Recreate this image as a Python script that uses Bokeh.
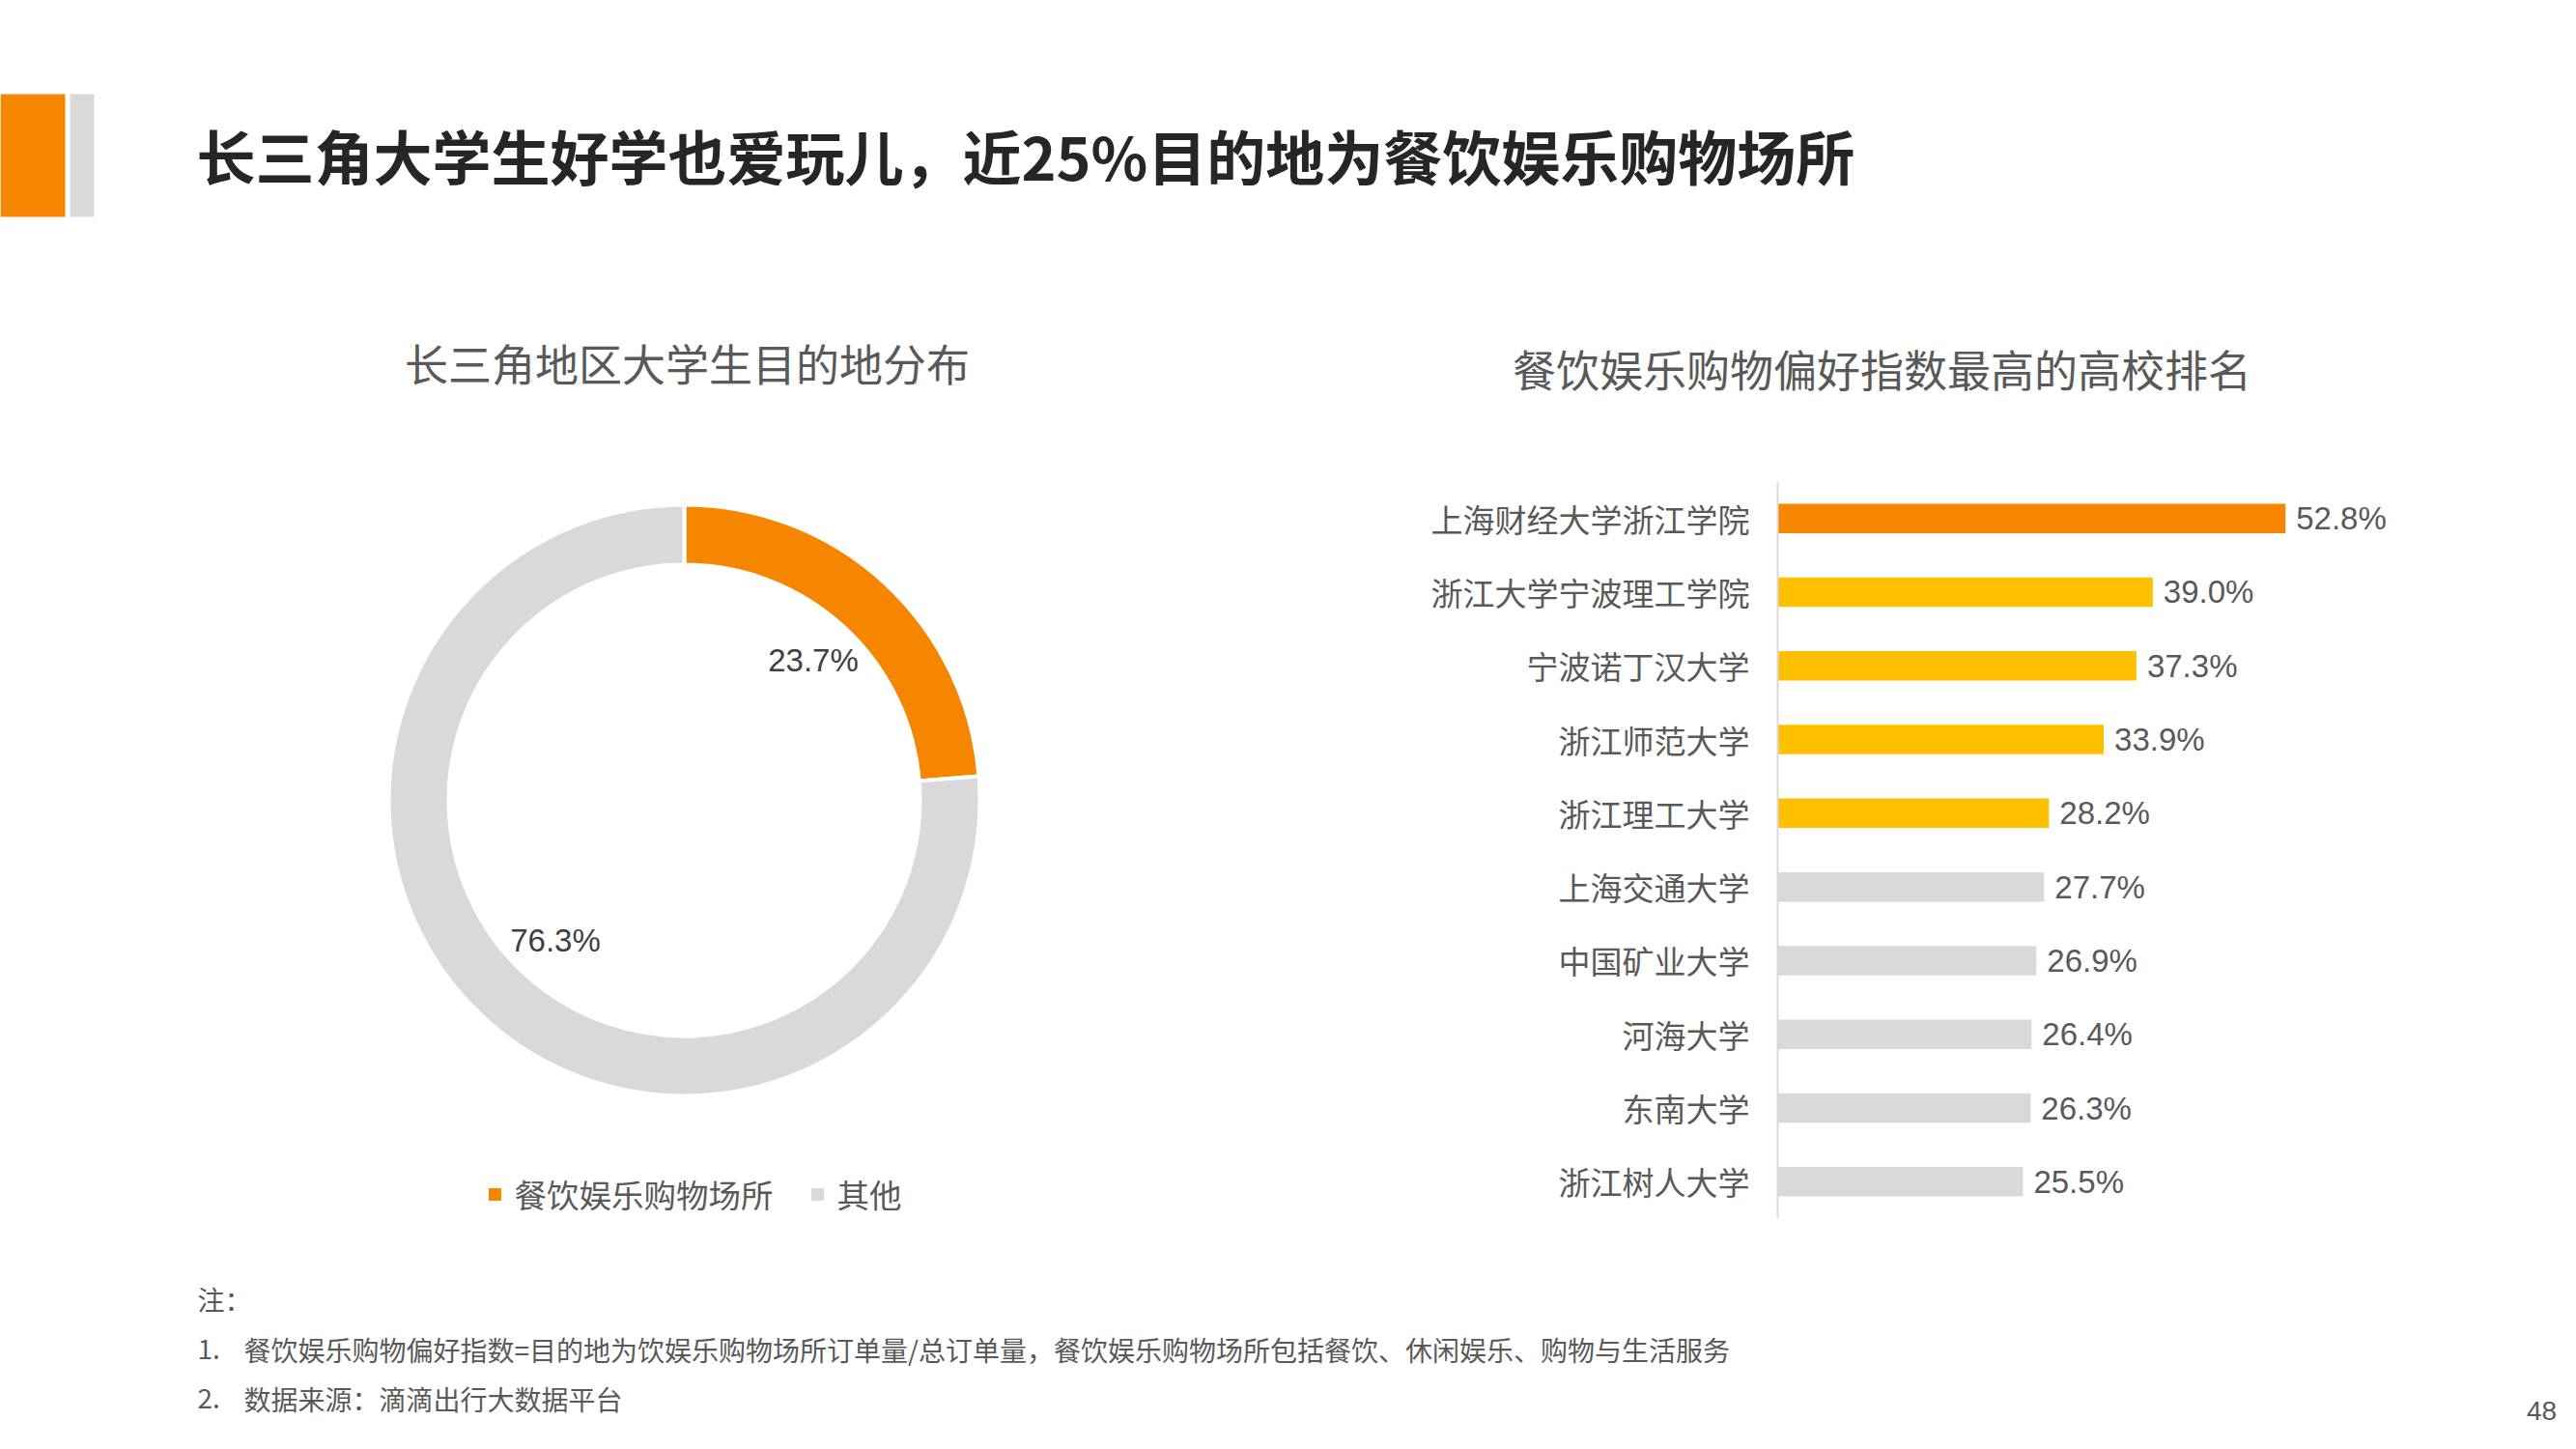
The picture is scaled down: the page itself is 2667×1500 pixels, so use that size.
import numpy as np
from bokeh.plotting import figure
from bokeh.models import Range1d, FactorRange
from bokeh.layouts import column, row
from bokeh.embed import file_html
from bokeh.resources import INLINE
from bokeh.core.properties import value

# ---------------- data ----------------
pie_categories = ["餐饮娱乐购物场所", "其他"]
pie_values = [23.7, 76.3]
pie_colors = ["#F68600", "#D9D9D9"]

schools = ["上海财经大学浙江学院", "浙江大学宁波理工学院", "宁波诺丁汉大学", "浙江师范大学",
           "浙江理工大学", "上海交通大学", "中国矿业大学", "河海大学", "东南大学", "浙江树人大学"]
scores = [52.8, 39.0, 37.3, 33.9, 28.2, 27.7, 26.9, 26.4, 26.3, 25.5]
bar_colors = ["#F68600"] + ["#FFC000"] * 4 + ["#D9D9D9"] * 5

title_text = "长三角大学生好学也爱玩儿，近25%目的地为餐饮娱乐购物场所"
pie_title = "长三角地区大学生目的地分布"
bar_title = "餐饮娱乐购物偏好指数最高的高校排名"
note_head = "注："
note_nums = ["1.", "2."]
note_lines = ["餐饮娱乐购物偏好指数=目的地为饮娱乐购物场所订单量/总订单量，餐饮娱乐购物场所包括餐饮、休闲娱乐、购物与生活服务",
              "数据来源：滴滴出行大数据平台"]
page_number = "48"

CJK = value("Noto Sans CJK SC")
LAT = value("Liberation Sans")
W = 2660
TXT = "#595959"
BT, BB = 30, 47   # frame borders shared by the two chart panels


def blank(w, h, xr, yr, **kw):
    p = figure(width=w, height=h, x_range=xr, y_range=yr, output_backend="svg",
               toolbar_location=None, x_axis_location=None, y_axis_location=None,
               min_border=0, **kw)
    p.grid.visible = False
    p.outline_line_color = None
    p.background_fill_color = "white"
    p.border_fill_color = "white"
    return p


# ---------------- header ----------------
HH = 468
head = blank(W, HH, Range1d(0, W), Range1d(HH, 0))
head.quad(left=0, right=67, top=97, bottom=224, fill_color="#F68600", line_color=None)
head.quad(left=72, right=97, top=97, bottom=224, fill_color="#D9D9D9", line_color=None)
head.text(x=[203], y=[160], text=[title_text], text_font=CJK, text_font_size="61px",
          text_font_style="bold", text_color="#262626", text_baseline="middle", text_align="left")
head.text(x=[711], y=[375], text=[pie_title], text_font=CJK, text_font_size="45px",
          text_color=TXT, text_baseline="middle", text_align="center")
head.text(x=[1948], y=[381], text=[bar_title], text_font=CJK, text_font_size="45px",
          text_color=TXT, text_baseline="middle", text_align="center")

# ---------------- donut ----------------
MH = 840
DW = 1428
donut = blank(DW, MH, Range1d(-708, DW - 708), Range1d(-(MH - BT - BB - 330), 330))
donut.min_border_top = BT
donut.min_border_bottom = BB
vals = np.array(pie_values, dtype=float)
cum = np.concatenate([[0.0], np.cumsum(vals / vals.sum())]) * 2 * np.pi
starts = np.pi / 2 - cum[:-1]
ends = np.pi / 2 - cum[1:]
donut.annular_wedge(x=0, y=0, inner_radius=244, outer_radius=306,
                    start_angle=starts, end_angle=ends, direction="clock",
                    fill_color=pie_colors, line_color="white", line_width=4)
mids = (starts + ends) / 2
donut.text(x=197 * np.cos(mids), y=197 * np.sin(mids), text=[f"{v:.1f}%" for v in pie_values],
           text_font=LAT, text_font_size="33px", text_color="#404040",
           text_align="center", text_baseline="middle")
donut.scatter(x=[-196, 138], y=[-408, -408], marker="square", size=13,
              fill_color=pie_colors, line_color=None)
donut.text(x=[-176, 158], y=[-407, -407], text=pie_categories, text_font=CJK,
           text_font_size="33.5px", text_color=TXT, text_align="left", text_baseline="middle")

# ---------------- bar chart ----------------
bar = figure(width=W - DW, height=MH, y_range=FactorRange(factors=schools[::-1]),
             x_range=Range1d(0, 70), output_backend="svg", toolbar_location=None,
             x_axis_location=None, y_axis_location="left",
             min_border_left=412, min_border_right=W - DW - 412 - 697,
             min_border_top=BT, min_border_bottom=BB)
bar.grid.visible = False
bar.outline_line_color = None
bar.hbar(y=schools, left=0, right=scores, height=0.4, fill_color=bar_colors, line_color=None)
bar.text(x=scores, y=schools, text=[f"{v:.1f}%" for v in scores], x_offset=11,
         text_font=LAT, text_font_size="33px", text_color=TXT,
         text_align="left", text_baseline="middle")
ax = bar.yaxis[0]
ax.axis_line_color = "#D9D9D9"
ax.axis_line_width = 2
ax.major_tick_line_color = None
ax.minor_tick_line_color = None
ax.major_label_text_font = "Noto Sans CJK SC"
ax.major_label_text_font_size = "33px"
ax.major_label_text_color = TXT
ax.major_label_standoff = 23

# ---------------- footer ----------------
FH = 188
foot = blank(W, FH, Range1d(0, W), Range1d(FH, 0))
foot.text(x=[204], y=[36], text=[note_head], text_font=CJK, text_font_size="28px",
          text_color=TXT, text_baseline="middle")
foot.text(x=[204, 204], y=[88, 139], text=note_nums, text_font=CJK, text_font_size="28px",
          text_color=TXT, text_baseline="middle")
foot.text(x=[252, 252], y=[88, 139], text=note_lines, text_font=CJK, text_font_size="28px",
          text_color=TXT, text_baseline="middle")
foot.text(x=[2631], y=[152], text=[page_number], text_font=LAT, text_font_size="28px",
          text_color=TXT, text_baseline="middle", text_align="center")

layout = column(head, row(donut, bar), foot)
open("out.html", "w").write(file_html(layout, INLINE))
